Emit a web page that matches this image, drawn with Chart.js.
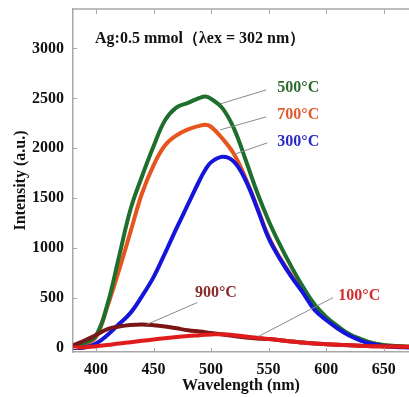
<!DOCTYPE html>
<html>
<head>
<meta charset="utf-8">
<script src="https://cdn.jsdelivr.net/npm/chart.js@4.4.0/dist/chart.umd.min.js"></script>
<style>
  html, body { margin: 0; padding: 0; background: #fff; }
  canvas { display: block; }
</style>
</head>
<body>
<canvas id="plChart" width="409" height="397"></canvas>
<script>
// === Datos ===
const wavelengths = [380, 390, 400, 410, 420, 430, 440, 450, 460, 470, 480, 490, 495, 500, 510, 520, 530, 540, 550, 560, 570, 580, 590, 600, 610, 620, 630, 640, 650, 660, 672];

const s100 = [5, 8, 18, 30, 45, 58, 72, 85, 98, 110, 120, 128, 132, 135, 138, 128, 115, 102, 90, 78, 65, 55, 45, 38, 32, 27, 22, 18, 16, 14, 12];
const s900 = [25, 75, 130, 190, 215, 230, 235, 228, 215, 197, 178, 165, 158, 150, 135, 120, 106, 96, 90, 78, 65, 55, 45, 38, 32, 27, 22, 18, 16, 14, 12];
const s300 = [0, 5, 45, 130, 240, 352, 520, 710, 950, 1200, 1440, 1680, 1785, 1860, 1915, 1865, 1680, 1400, 1100, 890, 710, 550, 380, 280, 195, 125, 75, 40, 20, 10, 5];
const s500 = [10, 50, 125, 440, 915, 1390, 1720, 2020, 2280, 2410, 2455, 2505, 2518, 2495, 2400, 2195, 1885, 1560, 1275, 1030, 810, 610, 435, 312, 220, 140, 90, 50, 30, 20, 12];
const s700 = [10, 40, 110, 420, 780, 1165, 1550, 1830, 2030, 2130, 2190, 2225, 2235, 2215, 2095, 1940, 1700, 1410, 1115, 900, 725, 575, 400, 295, 210, 135, 85, 48, 28, 18, 10];

const seriesNames = ['100°C', '900°C', '300°C', '500°C', '700°C'];
const seriesValues = [s100, s900, s300, s500, s700];
const seriesColors = ['#e01b1b', '#7a1616', '#1414dc', '#1e6e2e', '#e8541e'];
const labelColors = ['#d42d2d', '#8b2a2a', '#2a2ac8', '#2f6b30', '#e05a30'];

const xTicks = [400, 450, 500, 550, 600, 650];
const yTicks = [0, 500, 1000, 1500, 2000, 2500, 3000];

const axisColor = '#a8a8a8';
const serif = "'Liberation Serif', 'DejaVu Serif', serif";

// === Etiquetas con líneas guía (en coordenadas de datos) ===
const callouts = {
  '500°C': { text: [557.5, 2605], line: [[548, 2585], [508, 2445]] },
  '700°C': { text: [557.5, 2335], line: [[548, 2315], [508, 2185]] },
  '300°C': { text: [557.5, 2065], line: [[549, 2055], [519, 1935]] },
  '900°C': { text: [486, 555], line: [[488, 455], [444, 235]] },
  '100°C': { text: [610.5, 525], line: [[606, 505], [541, 115]] }
};

const framePlugin = {
  id: 'framePlugin',
  afterDraw(chart) {
    const { ctx, chartArea: a, scales: { x, y } } = chart;
    ctx.save();
    // borde superior y marcas hacia dentro
    ctx.strokeStyle = axisColor;
    ctx.lineWidth = 1.5;
    ctx.beginPath();
    ctx.moveTo(a.left, a.top);
    ctx.lineTo(a.right, a.top);
    ctx.stroke();
    ctx.lineWidth = 1;
    xTicks.forEach(v => {
      const px = Math.round(x.getPixelForValue(v)) + 0.5;
      ctx.beginPath();
      ctx.moveTo(px, a.top);
      ctx.lineTo(px, a.top + 5);
      ctx.moveTo(px, a.bottom);
      ctx.lineTo(px, a.bottom - 4);
      ctx.stroke();
    });
    yTicks.forEach(v => {
      const py = Math.round(y.getPixelForValue(v)) + 0.5;
      ctx.beginPath();
      ctx.moveTo(a.left, py);
      ctx.lineTo(a.left + 4, py);
      ctx.stroke();
    });

    // líneas guía
    ctx.strokeStyle = '#8a8a8a';
    ctx.lineWidth = 1;
    Object.values(callouts).forEach(c => {
      ctx.beginPath();
      ctx.moveTo(x.getPixelForValue(c.line[0][0]), y.getPixelForValue(c.line[0][1]));
      ctx.lineTo(x.getPixelForValue(c.line[1][0]), y.getPixelForValue(c.line[1][1]));
      ctx.stroke();
    });

    // textos de temperatura
    ctx.font = 'bold 16px ' + serif;
    ctx.textAlign = 'left';
    ctx.textBaseline = 'middle';
    seriesNames.forEach((name, i) => {
      const c = callouts[name];
      ctx.fillStyle = labelColors[i];
      ctx.fillText(name, x.getPixelForValue(c.text[0]), y.getPixelForValue(c.text[1]));
    });

    // título interior
    ctx.fillStyle = '#111';
    ctx.fillText('Ag:0.5 mmol（λex = 302 nm）', a.left + 22, a.top + 30);
    ctx.restore();
  }
};

const ctx = document.getElementById('plChart').getContext('2d');

new Chart(ctx, {
  type: 'line',
  data: {
    datasets: seriesNames.map((name, i) => ({
      label: name,
      data: wavelengths.map((w, j) => ({ x: w, y: seriesValues[i][j] })),
      borderColor: seriesColors[i],
      borderWidth: 4,
      pointRadius: 0,
      fill: false,
      tension: 0.4
    }))
  },
  options: {
    responsive: false,
    animation: false,
    layout: { padding: { top: 9, right: 0, left: 0, bottom: 0 } },
    plugins: {
      legend: { display: false },
      tooltip: { enabled: false }
    },
    scales: {
      x: {
        type: 'linear',
        min: 380,
        max: 672,
        afterBuildTicks: s => { s.ticks = xTicks.map(v => ({ value: v })); },
        afterFit: s => { s.height = 45; s.paddingLeft = 0; s.paddingRight = 0; },
        grid: { display: true, drawOnChartArea: false, drawTicks: false },
        border: { color: axisColor, width: 1.5 },
        ticks: { padding: 8, color: '#111', maxRotation: 0, callback: v => String(v), font: { family: serif, size: 16, weight: 'bold' } },
        title: {
          display: true,
          text: 'Wavelength (nm)',
          color: '#111',
          padding: { top: 0, bottom: 2 },
          font: { family: serif, size: 16, weight: 'bold' }
        }
      },
      y: {
        type: 'linear',
        min: -40,
        max: 3395,
        afterBuildTicks: s => { s.ticks = yTicks.map(v => ({ value: v })); },
        afterFit: s => { s.width = 73; s.paddingTop = 0; s.paddingBottom = 0; },
        grid: { display: true, drawOnChartArea: false, drawTicks: false },
        border: { color: axisColor, width: 1.5 },
        ticks: { padding: 9, color: '#111', callback: v => String(v), font: { family: serif, size: 16, weight: 'bold' } },
        title: {
          display: true,
          text: 'Intensity (a.u.)',
          color: '#111',
          padding: { top: 11, bottom: 0 },
          font: { family: serif, size: 16, weight: 'bold' }
        }
      }
    }
  },
  plugins: [framePlugin]
});
</script>
</body>
</html>
